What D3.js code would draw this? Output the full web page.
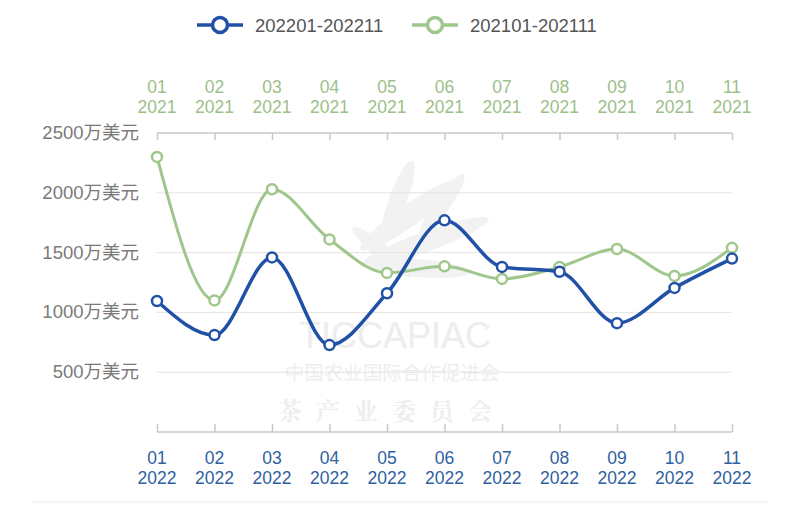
<!DOCTYPE html>
<html><head><meta charset="utf-8">
<script src="https://cdn.jsdelivr.net/npm/d3@7"></script>
<style>html,body{margin:0;padding:0;background:#fff;}svg{display:block;}</style>
</head><body>
<svg id="chart" width="800" height="511"></svg>
<script>
const months = ["01","02","03","04","05","06","07","08","09","10","11"];
const yearBottom = "2022";
const yearTop = "2021";
const series2022 = [1095, 810, 1460, 727, 1160, 1770, 1380, 1340, 910, 1205, 1450];
const series2021 = [2300, 1100, 2030, 1610, 1330, 1385, 1280, 1380, 1530, 1305, 1540];
const yTicks = [500, 1000, 1500, 2000, 2500];
const yUnit = "万美元";
const legendNames = ["202201-202211", "202101-202111"];

const BLUE = "#2151a6", GREEN = "#9fc68b";
const svg = d3.select("#chart");
const font = "'Liberation Sans', Arial, 'Noto Sans CJK SC', sans-serif";

const x = d3.scalePoint().domain(months).range([157, 732]);
const y = d3.scaleLinear().domain([0, 2500]).range([432, 133]);

// watermark
const wm = svg.append("g").attr("fill", "#f2f2f2");
const leaves = [
  {cx: 410, cy: 215, rx: 60, ry: 11, a: -35},
  {cx: 425, cy: 242, rx: 68, ry: 10, a: -20},
  {cx: 398, cy: 200, rx: 42, ry: 9, a: -70},
  {cx: 442, cy: 205, rx: 38, ry: 8, a: -55},
  {cx: 418, cy: 268, rx: 52, ry: 9, a: 5},
  {cx: 382, cy: 252, rx: 38, ry: 8, a: 40}
];
wm.selectAll("ellipse").data(leaves).join("ellipse")
  .attr("cx", 0).attr("cy", 0).attr("rx", d => d.rx).attr("ry", d => d.ry)
  .attr("transform", d => `translate(${d.cx},${d.cy}) rotate(${d.a})`);
wm.append("text").attr("x", 395).attr("y", 348).attr("text-anchor", "middle")
  .attr("font-family", font).attr("font-size", 36).attr("fill", "#ededed").text("TICCAPIAC");
wm.append("text").attr("x", 392).attr("y", 380).attr("text-anchor", "middle")
  .attr("font-family", "'Noto Sans CJK SC'").attr("font-size", 19.5).attr("fill", "#eeeeee").text("中国农业国际合作促进会");
wm.append("text").attr("x", 392).attr("y", 420).attr("text-anchor", "middle")
  .attr("font-family", "'Noto Serif CJK SC', 'Noto Sans CJK SC'").attr("font-weight", "bold")
  .attr("letter-spacing", 14).attr("font-size", 24).attr("fill", "#eeeeee").text("茶产业委员会");

// gridlines
svg.append("g").selectAll("line").data(yTicks.filter(t => t < 2500)).join("line")
  .attr("x1", 157).attr("x2", 732).attr("y1", d => y(d)).attr("y2", d => y(d))
  .attr("stroke", "#e3e3e3").attr("stroke-width", 1);

// y labels
svg.append("g").selectAll("text").data(yTicks).join("text")
  .attr("x", 139).attr("y", d => y(d) + 6).attr("text-anchor", "end")
  .attr("font-family", font).attr("font-size", 18.5).attr("fill", "#7a7a7a")
  .text(d => d + yUnit);

// top axis
const topAxis = d3.axisTop(x).tickSize(-7).tickFormat("");
const gTop = svg.append("g").attr("transform", `translate(0,${y(2500)})`).call(topAxis);
gTop.select(".domain").attr("d", `M157,0H732`);
// bottom axis
const bottomAxis = d3.axisBottom(x).tickSize(-8).tickFormat("");
const gBot = svg.append("g").attr("transform", `translate(0,${y(0)})`).call(bottomAxis);
gBot.select(".domain").attr("d", `M157,0H732`);
[gTop, gBot].forEach(g => {
  g.selectAll(".domain").attr("stroke", "#c8c8c8").attr("stroke-width", 1.5);
  g.selectAll(".tick line").attr("stroke", "#c8c8c8").attr("stroke-width", 1.5);
});

// top labels
const tl = svg.append("g").selectAll("text").data(months).join("text")
  .attr("text-anchor", "middle").attr("font-family", font).attr("font-size", 17.5).attr("fill", "#9dbf89");
tl.append("tspan").attr("x", d => x(d)).attr("y", 93).text(d => d);
tl.append("tspan").attr("x", d => x(d)).attr("y", 113).text(yearTop);

const bl = svg.append("g").selectAll("text").data(months).join("text")
  .attr("text-anchor", "middle").attr("font-family", font).attr("font-size", 17.5).attr("fill", "#2f619f");
bl.append("tspan").attr("x", d => x(d)).attr("y", 464).text(d => d);
bl.append("tspan").attr("x", d => x(d)).attr("y", 484).text(yearBottom);

// bottom border line
svg.append("line").attr("x1", 32).attr("x2", 768).attr("y1", 502).attr("y2", 502)
  .attr("stroke", "#ececec").attr("stroke-width", 1);

const line = d3.line().x((d, i) => x(months[i])).y(d => y(d)).curve(d3.curveMonotoneX);

function drawSeries(data, color, w) {
  svg.append("path").datum(data).attr("d", line).attr("fill", "none")
    .attr("stroke", color).attr("stroke-width", w).attr("stroke-linejoin", "round");
  svg.append("g").selectAll("circle").data(data).join("circle")
    .attr("cx", (d, i) => x(months[i])).attr("cy", d => y(d)).attr("r", 5)
    .attr("fill", "#fff").attr("stroke", color).attr("stroke-width", 2.5);
}
drawSeries(series2021, GREEN, 3);
drawSeries(series2022, BLUE, 3.5);

// legend
const legend = [{name: legendNames[0], color: BLUE, x0: 197}, {name: legendNames[1], color: GREEN, x0: 412}];
const lg = svg.append("g").selectAll("g").data(legend).join("g");
lg.append("line").attr("x1", d => d.x0).attr("x2", d => d.x0 + 46).attr("y1", 25).attr("y2", 25)
  .attr("stroke", d => d.color).attr("stroke-width", 3.5);
lg.append("circle").attr("cx", d => d.x0 + 23).attr("cy", 25).attr("r", 7.5)
  .attr("fill", "#fff").attr("stroke", d => d.color).attr("stroke-width", 3.5);
lg.append("text").attr("x", d => d.x0 + 58).attr("y", 32).attr("font-family", font)
  .attr("font-size", 18.5).attr("fill", "#555").text(d => d.name);
</script>
</body></html>
